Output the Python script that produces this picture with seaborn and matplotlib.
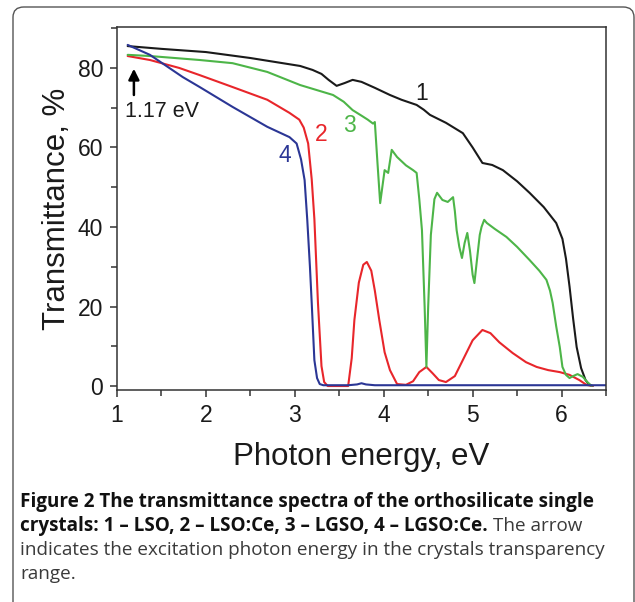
import matplotlib
matplotlib.use('Agg')
import matplotlib.pyplot as plt
from matplotlib.patches import FancyBboxPatch
from matplotlib.ticker import MultipleLocator
import seaborn as sns

# 1 - LSO (black)
lso_x = [1.12, 1.5, 2.0, 2.5, 3.06, 3.2, 3.3, 3.38, 3.47, 3.56, 3.65, 3.75, 3.9, 4.07, 4.2, 4.37,
         4.45, 4.52, 4.7, 4.89, 5.0, 5.11, 5.22, 5.34, 5.5, 5.64, 5.8, 5.94, 6.01, 6.05, 6.09,
         6.13, 6.17, 6.22, 6.27, 6.31, 6.35]
lso_y = [85.5, 84.8, 84.0, 82.5, 80.5, 79.5, 78.5, 77.0, 75.5, 76.2, 77.0, 76.5, 75.0, 73.2, 72.0, 70.7,
         69.5, 68.2, 66.2, 63.6, 60.0, 56.1, 55.6, 54.3, 51.5, 48.6, 45.0, 41.0, 37.0, 32.0, 25.0,
         17.0, 9.8, 4.5, 1.5, 0.3, 0.0]

# 2 - LSO:Ce (red)
lsoce_x = [1.12, 1.37, 1.7, 1.93, 2.3, 2.69, 2.94, 3.05, 3.10, 3.15, 3.19, 3.22, 3.26, 3.30, 3.33,
           3.37, 3.45, 3.6, 3.64, 3.67, 3.72, 3.77, 3.81, 3.86, 3.9, 3.95, 4.01, 4.07, 4.15, 4.25,
           4.33, 4.4, 4.48, 4.55, 4.62, 4.7, 4.8, 4.9, 5.0, 5.11, 5.2, 5.3, 5.45, 5.6, 5.72, 5.85,
           5.98, 6.09, 6.2, 6.28, 6.35]
lsoce_y = [83.0, 82.0, 80.0, 78.2, 75.2, 72.0, 68.7, 67.0, 65.0, 61.0, 52.0, 42.0, 21.0, 5.0, 1.0,
           0.0, 0.0, 0.0, 7.0, 16.6, 26.0, 30.5, 31.2, 29.0, 24.0, 16.6, 8.5, 4.0, 0.5, 0.3,
           1.2, 3.5, 4.8, 3.2, 1.5, 1.0, 2.5, 7.0, 11.5, 14.1, 13.3, 11.0, 8.3, 6.0, 4.8, 4.0,
           3.5, 2.8, 1.5, 0.3, 0.0]

# 3 - LGSO (green)
lgso_x = [1.12, 1.37, 1.93, 2.3, 2.69, 3.06, 3.43, 3.55, 3.65, 3.75, 3.82, 3.88, 3.90, 3.93, 3.96,
          4.01, 4.05, 4.09, 4.15, 4.25, 4.33, 4.37, 4.40, 4.43, 4.46, 4.48, 4.50, 4.53, 4.57, 4.60,
          4.66, 4.72, 4.78, 4.80, 4.82, 4.85, 4.88, 4.91, 4.94, 4.97, 5.00, 5.02, 5.05, 5.08, 5.10,
          5.13, 5.16, 5.25, 5.38, 5.5, 5.64, 5.75, 5.83, 5.87, 5.90, 5.94, 5.98, 6.01, 6.05, 6.09,
          6.13, 6.18, 6.24, 6.29, 6.34]
lgso_y = [83.3, 83.0, 82.0, 81.2, 79.0, 75.7, 73.2, 71.5, 69.4, 68.0, 67.0, 66.0, 66.4, 56.0, 46.0,
          54.3, 53.6, 59.4, 57.6, 55.5, 54.3, 53.6, 47.0, 39.2, 20.0, 4.8, 20.0, 38.0, 47.0, 48.6,
          46.8, 46.3, 47.5, 44.0, 39.2, 35.0, 32.2, 36.0, 38.5, 34.0, 28.0, 25.9, 32.0, 38.0, 40.0,
          41.8, 41.0, 39.5, 37.5, 35.0, 31.7, 29.0, 26.7, 24.0, 20.9, 15.0, 9.8, 4.8, 2.8, 2.0,
          2.5, 3.0, 2.3, 1.0, 0.0]

# 4 - LGSO:Ce (blue)
lgsoce_x = [1.12, 1.37, 1.74, 1.93, 2.3, 2.69, 2.94, 3.02, 3.07, 3.11, 3.14, 3.17, 3.19, 3.22, 3.25,
            3.28, 3.32, 3.6, 3.7, 3.75, 3.8, 3.9, 6.5]
lgsoce_y = [85.8, 83.3, 77.7, 75.2, 70.2, 65.2, 62.6, 61.0, 57.0, 51.8, 41.8, 30.0, 20.9, 6.5, 2.0,
            0.5, 0.2, 0.2, 0.4, 0.7, 0.4, 0.2, 0.2]

curve_labels = ['1', '2', '3', '4']
curve_colors = ['#1a1a1a', '#e8262b', '#4db548', '#2b3695']
label_x = [4.43, 3.30, 3.62, 2.89]
label_y = [73.7, 63.3, 65.6, 58.0]

caption_bold_1 = 'Figure 2 The transmittance spectra of the orthosilicate single'
caption_bold_2 = 'crystals: 1 \u2013 LSO, 2 \u2013 LSO:Ce, 3 \u2013 LGSO, 4 \u2013 LGSO:Ce.'
caption_reg_2 = 'The arrow'
caption_reg_3 = 'indicates the excitation photon energy in the crystals transparency'
caption_reg_4 = 'range.'

sns.set_style('ticks')
plt.rcParams['font.family'] = ['Liberation Sans', 'DejaVu Sans']

W, H = 635, 602
fig = plt.figure(figsize=(W / 100, H / 100), dpi=100)
ax = fig.add_axes([117 / W, 1 - 390 / H, (606 - 117) / W, (390 - 27) / H])

curves = [(lso_x, lso_y), (lsoce_x, lsoce_y), (lgso_x, lgso_y), (lgsoce_x, lgsoce_y)]
for (xs, ys), col in zip(curves, curve_colors):
    sns.lineplot(x=xs, y=ys, sort=False, estimator=None, color=col, lw=1.5, ax=ax)

for lab, lx, ly, col in zip(curve_labels, label_x, label_y, curve_colors):
    ax.text(lx, ly, lab, color=col, fontsize=16.5, ha='center', va='center')

# excitation arrow
ax.annotate('', xy=(1.19, 80.5), xytext=(1.19, 72.5),
            arrowprops=dict(arrowstyle='-|>', color='black', lw=1.8, mutation_scale=16))
ax.text(1.09, 69.0, '1.17 eV', fontsize=15.5, ha='left', va='center', color='#1a1a1a')

ax.set_xlim(1, 6.5)
ax.set_ylim(-1, 90.3)
ax.xaxis.set_major_locator(MultipleLocator(1))
ax.xaxis.set_minor_locator(MultipleLocator(0.5))
ax.yaxis.set_major_locator(MultipleLocator(20))
ax.yaxis.set_minor_locator(MultipleLocator(10))
ax.tick_params(which='both', direction='out', top=False, right=False, color='#333333', width=1.1)
ax.tick_params(which='major', length=5, labelsize=16.5, pad=5, labelcolor='#1a1a1a')
ax.tick_params(which='minor', length=4)
for sp in ax.spines.values():
    sp.set_visible(True)
    sp.set_color('#333333')
    sp.set_linewidth(1.1)

ax.set_xlabel('Photon energy, eV', fontsize=22.5, labelpad=11, color='#1a1a1a')
ax.set_ylabel('Transmittance, %', fontsize=22.5, labelpad=4, color='#1a1a1a')

# rounded frame
frame = FancyBboxPatch((13 / W, -0.1), (634 - 13) / W, 1 - 7 / H + 0.1,
                       boxstyle='round,pad=0,rounding_size=0.017', transform=fig.transFigure,
                       fill=False, ec='#555555', lw=1.0)
fig.add_artist(frame)

# caption, sized so the first line runs to about x = 592 px
cap_font = ['Open Sans', 'DejaVu Sans']
x0 = 20 / W
base = [507, 531, 555, 579]
fig.canvas.draw()
rend = fig.canvas.get_renderer()
t1 = fig.text(x0, 1 - base[0] / H, caption_bold_1, family=cap_font, fontweight='bold',
              fontsize=12, color='#111111', va='baseline')
fs = 12 * 572 / t1.get_window_extent(rend).width
t1.set_fontsize(fs)
b2 = fig.text(x0, 1 - base[1] / H, caption_bold_2, family=cap_font, fontweight='bold',
              fontsize=fs, color='#111111', va='baseline')
bw = b2.get_window_extent(rend).width
fig.text(x0 + (bw + 5) / W, 1 - base[1] / H, caption_reg_2,
         family=cap_font, fontsize=fs, color='#3a3a3a', va='baseline')
fig.text(x0, 1 - base[2] / H, caption_reg_3,
         family=cap_font, fontsize=fs, color='#3a3a3a', va='baseline')
fig.text(x0, 1 - base[3] / H, caption_reg_4,
         family=cap_font, fontsize=fs, color='#3a3a3a', va='baseline')

fig.savefig('out.png', dpi=100)
